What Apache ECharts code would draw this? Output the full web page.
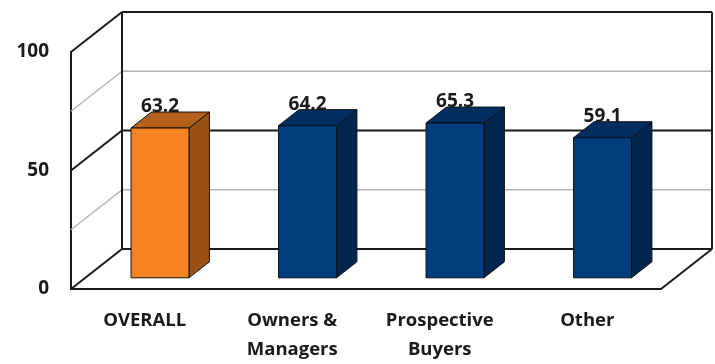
<!DOCTYPE html>
<html>
<head>
<meta charset="utf-8">
<script src="https://cdn.jsdelivr.net/npm/echarts@6/dist/echarts.min.js"></script>
<style>html,body{margin:0;padding:0;background:#fff}#c{width:715px;height:364px}</style>
</head>
<body>
<div id="c"></div>
<script>
var categories = ['OVERALL', 'Owners &\nManagers', 'Prospective\nBuyers', 'Other'];
var values = [63.2, 64.2, 65.3, 59.1];
var yTicks = [0, 50, 100];
var wallLevels = [0, 25, 50, 75, 100];

var DX = 51, DY = -40;         // depth offset of back wall
var F0 = 0.28, F1 = 0.68;       // bar depth range (fraction)
var BARW = 0.393;               // bar width fraction of band
var FONT = '"Open Sans"';

var frontColors = ['#F58220', '#003D7E', '#003D7E', '#003D7E'];
var topColors = ['#B5611C', '#002E62', '#002E62', '#002E62'];
var sideColors = ['#9B5016', '#00264F', '#00264F', '#00264F'];

var chart = echarts.init(document.getElementById('c'), null, {renderer: 'canvas'});

function wallsRender(params, api) {
  var cs = params.coordSys;
  var xl = cs.x, xr = cs.x + cs.width;
  var ch = [];
  var yOf = function (v) { return api.coord([0, v])[1]; };
  var dark = {stroke: '#1a1a1a', lineWidth: 2};
  var grey = {stroke: '#b4b4b4', lineWidth: 1.5};
  wallLevels.forEach(function (v) {
    var y = yOf(v);
    var st = (v % 50 === 0) ? dark : grey;
    ch.push({type: 'line', shape: {x1: xl + DX, y1: y + DY, x2: xr + DX, y2: y + DY}, style: st});
    ch.push({type: 'line', shape: {x1: xl, y1: y, x2: xl + DX, y2: y + DY}, style: st});
  });
  var y0 = yOf(0), y100 = yOf(100);
  ch.push({type: 'line', shape: {x1: xl + DX, y1: y0 + DY, x2: xl + DX, y2: y100 + DY}, style: dark});
  ch.push({type: 'line', shape: {x1: xr + DX, y1: y0 + DY, x2: xr + DX, y2: y100 + DY}, style: dark});
  ch.push({type: 'line', shape: {x1: xr, y1: y0, x2: xr + DX, y2: y0 + DY}, style: dark});
  return {type: 'group', children: ch};
}

function barRender(params, api) {
  var idx = api.value(0);
  var v = api.value(1);
  var top = api.coord([idx, v]);
  var base = api.coord([idx, 0]);
  var band = api.size([1, 0])[0];
  var w = band * BARW;
  var ox = DX * F0, oy = DY * F0;
  var dx = DX * (F1 - F0), dy = DY * (F1 - F0);
  var xl = top[0] - w / 2 + ox + 1, xr = top[0] + w / 2 + ox + 1;
  var yt = top[1] + oy, yb = base[1] + oy;
  var i = params.dataIndex;
  var border = {stroke: '#111', lineWidth: 1};
  return {
    type: 'group',
    children: [
      {type: 'polygon', shape: {points: [[xr, yt], [xr + dx, yt + dy], [xr + dx, yb + dy], [xr, yb]]},
        style: Object.assign({fill: sideColors[i]}, border)},
      {type: 'polygon', shape: {points: [[xl, yt], [xr, yt], [xr + dx, yt + dy], [xl + dx, yt + dy]]},
        style: Object.assign({fill: topColors[i]}, border)},
      {type: 'rect', shape: {x: xl, y: yt, width: xr - xl, height: yb - yt},
        style: Object.assign({fill: frontColors[i]}, border)},
      {type: 'text', x: (xl + xr) / 2, y: yt + dy + 4,
        style: {text: String(values[i].toFixed(1)), fill: '#1a1a1a', font: 'bold 19px ' + FONT,
          textAlign: 'center', textVerticalAlign: 'bottom'}}
    ]
  };
}

chart.setOption({
  animation: false,
  backgroundColor: '#fff',
  grid: {left: 71, right: 54, top: 52, bottom: 71, containLabel: false},
  xAxis: {
    type: 'category', data: categories,
    axisLine: {show: true, lineStyle: {color: '#1a1a1a', width: 2}},
    axisTick: {show: false},
    axisLabel: {color: '#1a1a1a', fontFamily: FONT, fontWeight: 'bold', fontSize: 18.5, lineHeight: 29, margin: 17, interval: 0}
  },
  yAxis: {
    type: 'value', min: 0, max: 100, interval: 50,
    axisLine: {show: true, lineStyle: {color: '#1a1a1a', width: 2}},
    axisTick: {show: false},
    splitLine: {show: false},
    axisLabel: {color: '#1a1a1a', fontFamily: FONT, fontWeight: 'bold', fontSize: 19, margin: 22,
      formatter: function (v) { return yTicks.indexOf(v) >= 0 ? String(v) : ''; }}
  },
  series: [
    {type: 'custom', z: 1, renderItem: wallsRender, data: [[0, 0]], silent: true},
    {type: 'custom', z: 3, renderItem: barRender,
      data: values.map(function (v, i) { return [i, v]; })}
  ]
});
</script>
</body>
</html>
